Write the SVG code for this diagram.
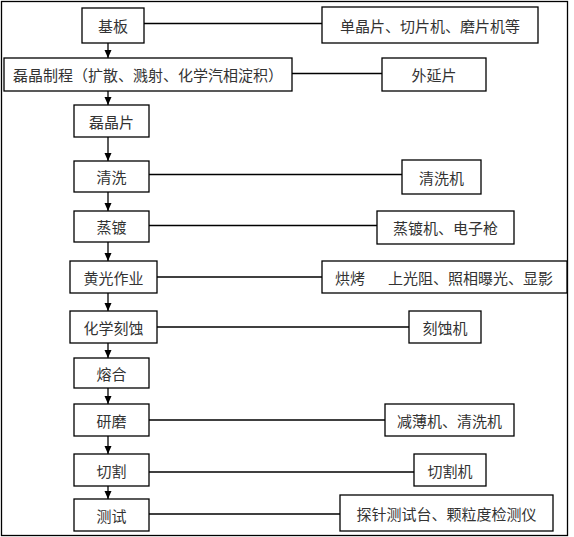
<svg xmlns="http://www.w3.org/2000/svg" width="574" height="537" viewBox="0 0 574 537">
<style>
.b{fill:#fff;stroke:#000;stroke-width:1.3}
.t{font-family:"Noto Sans CJK SC","Noto Sans",sans-serif;font-size:15px;fill:#333;text-anchor:middle;dominant-baseline:central}
.c{stroke:#000;stroke-width:1.3;fill:none}
</style>
<defs>
<marker id="ah" viewBox="0 0 8 8" refX="8" refY="4" markerWidth="8" markerHeight="8" markerUnits="userSpaceOnUse" orient="auto">
<path d="M0,0.5 L8,4 L0,7.5 Z" fill="#000"/>
</marker>
</defs>
<rect x="0" y="0" width="574" height="537" fill="#fff"/>
<rect x="1.5" y="1.5" width="566" height="534" fill="none" stroke="#000" stroke-width="1.3"/>
<g id="connectors">
<line class="c" x1="108" y1="43" x2="108" y2="58" marker-end="url(#ah)"/>
<line class="c" x1="108" y1="91" x2="108" y2="105" marker-end="url(#ah)"/>
<line class="c" x1="108" y1="137" x2="108" y2="161" marker-end="url(#ah)"/>
<line class="c" x1="108" y1="192" x2="108" y2="211" marker-end="url(#ah)"/>
<line class="c" x1="108" y1="242" x2="108" y2="261" marker-end="url(#ah)"/>
<line class="c" x1="108" y1="293" x2="108" y2="311" marker-end="url(#ah)"/>
<line class="c" x1="108" y1="343" x2="108" y2="358" marker-end="url(#ah)"/>
<line class="c" x1="108" y1="388" x2="108" y2="404" marker-end="url(#ah)"/>
<line class="c" x1="108" y1="436" x2="108" y2="454" marker-end="url(#ah)"/>
<line class="c" x1="108" y1="486" x2="108" y2="499" marker-end="url(#ah)"/>
<line class="c" x1="144" y1="23.5" x2="322" y2="23.5"/>
<line class="c" x1="292" y1="73.5" x2="382" y2="73.5"/>
<line class="c" x1="149" y1="174.5" x2="402" y2="174.5"/>
<line class="c" x1="149" y1="225.5" x2="377" y2="225.5"/>
<line class="c" x1="157" y1="277" x2="322" y2="277"/>
<line class="c" x1="157" y1="327" x2="409" y2="327"/>
<line class="c" x1="149" y1="420" x2="385" y2="420"/>
<line class="c" x1="149" y1="472" x2="414" y2="472"/>
<line class="c" x1="149" y1="514" x2="340" y2="514"/>
</g>
<g id="n1"><rect class="b" x="82" y="8" width="62" height="35"/><text class="t" x="113" y="25.5">基板</text></g>
<g id="n2"><rect class="b" x="4" y="58" width="288" height="33"/><text class="t" x="148" y="74.5">磊晶制程（扩散、溅射、化学汽相淀积）</text></g>
<g id="n3"><rect class="b" x="74" y="105" width="75" height="32"/><text class="t" x="111.5" y="121">磊晶片</text></g>
<g id="n4"><rect class="b" x="74" y="161" width="75" height="31"/><text class="t" x="111.5" y="176.5">清洗</text></g>
<g id="n5"><rect class="b" x="74" y="211" width="75" height="31"/><text class="t" x="111.5" y="226.5">蒸镀</text></g>
<g id="n6"><rect class="b" x="70" y="261" width="87" height="32"/><text class="t" x="113.5" y="277">黄光作业</text></g>
<g id="n7"><rect class="b" x="70" y="311" width="87" height="32"/><text class="t" x="113.5" y="327">化学刻蚀</text></g>
<g id="n8"><rect class="b" x="74" y="358" width="75" height="30"/><text class="t" x="111.5" y="373">熔合</text></g>
<g id="n9"><rect class="b" x="74" y="404" width="75" height="32"/><text class="t" x="111.5" y="420">研磨</text></g>
<g id="n10"><rect class="b" x="74" y="454" width="75" height="32"/><text class="t" x="111.5" y="470">切割</text></g>
<g id="n11"><rect class="b" x="74" y="499" width="75" height="32"/><text class="t" x="111.5" y="515">测试</text></g>
<g id="r1"><rect class="b" x="322" y="7" width="216" height="36"/><text class="t" x="430" y="25">单晶片、切片机、磨片机等</text></g>
<g id="r2"><rect class="b" x="382" y="58" width="104" height="33"/><text class="t" x="434" y="74.5">外延片</text></g>
<g id="r3"><rect class="b" x="402" y="160" width="79" height="34"/><text class="t" x="441.5" y="177">清洗机</text></g>
<g id="r4"><rect class="b" x="377" y="211" width="137" height="33"/><text class="t" x="445.5" y="227.5">蒸镀机、电子枪</text></g>
<g id="r5"><rect class="b" x="322" y="261" width="245" height="32"/><text class="t" x="350" y="277">烘烤</text><text class="t" x="470.5" y="277">上光阻、照相曝光、显影</text></g>
<g id="r6"><rect class="b" x="409" y="311" width="72" height="32"/><text class="t" x="445" y="327">刻蚀机</text></g>
<g id="r7"><rect class="b" x="385" y="404" width="129" height="32"/><text class="t" x="449.5" y="420">减薄机、清洗机</text></g>
<g id="r8"><rect class="b" x="414" y="454" width="72" height="32"/><text class="t" x="450" y="470">切割机</text></g>
<g id="r9"><rect class="b" x="340" y="495" width="213" height="36"/><text class="t" x="446.5" y="513">探针测试台、颗粒度检测仪</text></g>
</svg>
